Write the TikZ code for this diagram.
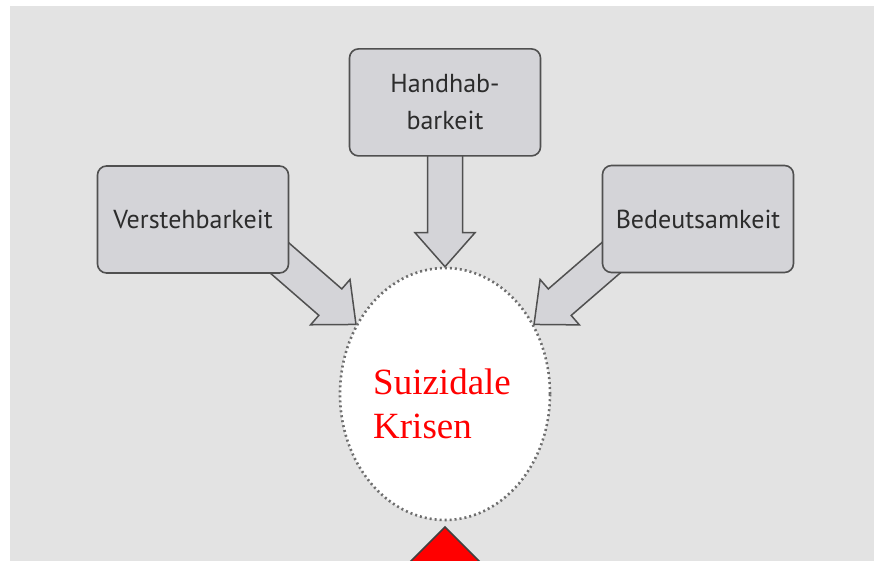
\documentclass[tikz,border=0pt]{standalone}
\usepackage{fontspec}
\setmainfont{Liberation Serif}
\setsansfont{PT Sans}
\usetikzlibrary{
    positioning,
    calc,
    shapes.geometric,
    backgrounds
}
\definecolor{paper}{HTML}{E3E3E3}
\definecolor{boxfill}{HTML}{D4D4D8}
\definecolor{boxline}{HTML}{505050}
\definecolor{boxtext}{HTML}{2C2C2C}
\definecolor{dotgray}{HTML}{6E6E6E}
\definecolor{tipline}{HTML}{404040}
\tikzset{
  box/.style = {
      draw=boxline,
      fill=boxfill,
      line width=1.6pt,
      rounded corners=9pt,
      minimum width=191pt,
      minimum height=107pt,
      inner sep=0pt,
      text=boxtext,
      font=\sffamily\fontsize{26}{37}\selectfont,
      align=center
  },
  krise/.style = {
      ellipse,
      fill=white,
      draw=dotgray,
      line width=2.6pt,
      dash pattern=on 2pt off 3pt,
      minimum width=210pt,
      minimum height=252pt,
      inner sep=0pt
  },
  krisetext/.style = {
      text=red,
      font=\fontsize{37}{44}\selectfont,
      align=left,
      inner sep=0pt
  },
  fat/.style = {
      draw=boxline,
      fill=boxfill,
      line width=1.5pt,
      line join=miter
  },
  redtip/.style = {
      fill=red,
      draw=tipline,
      line width=1.5pt
  }
}
% fat outlined arrow from #1 to the tip #2
\newcommand{\fatarrow}[2]{%
  \coordinate (fa-h) at ($(#2)!34pt!(#1)$);
  \draw[fat] ($(#1)!17.5pt!90:(#2)$) -- ($(fa-h)!17.5pt!90:(#2)$)
    -- ($(fa-h)!30pt!90:(#2)$) -- (#2)
    -- ($(fa-h)!30pt!-90:(#2)$) -- ($(fa-h)!17.5pt!-90:(#2)$)
    -- ($(#1)!17.5pt!-90:(#2)$) -- cycle;
}

\begin{document}
\begin{tikzpicture}[x=1pt, y=1pt]
    \useasboundingbox (0,0) rectangle (874,560);
    % Nodes
    \node[krise] (krise) at (445,166) {};
    \node[krisetext, anchor=base west] (krisetext) at (373,122) {Suizidale\\Krisen};
    \node[box, above=110pt of krise] (han) {Handhab-\\barkeit};
    \node[box] (verst) at (193,340.5) {Verstehbarkeit};
    \node[box] (bed) at (698,341) {Bedeutsamkeit};
    \coordinate (hanout) at ($(han.south)+(0,5)$);
    \coordinate (verstout) at ($(verst.south east)+(-18,23)$);
    \coordinate (bedout) at ($(bed.south west)+(18,23)$);
    % Arrows
    \begin{scope}[on background layer]
        \fill[paper] (10,-5) rectangle (879,554);
        \fatarrow{hanout}{krise.north}
        \fatarrow{verstout}{krise.142}
        \fatarrow{bedout}{krise.38}
    \end{scope}
    \filldraw[redtip] (409,-3) -- (445,33) -- (481,-3);
\end{tikzpicture}
\end{document}
